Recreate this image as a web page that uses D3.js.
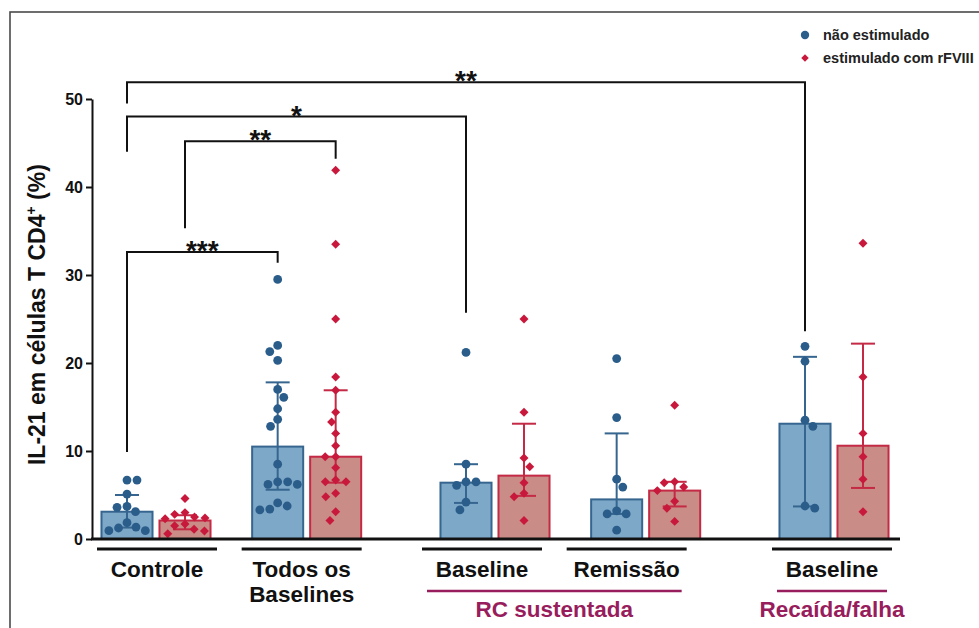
<!DOCTYPE html>
<html>
<head>
<meta charset="utf-8">
<script src="https://cdn.jsdelivr.net/npm/d3@7"></script>
<style>
  body { margin: 0; background: #fff; }
  text { font-family: Arial, "Liberation Sans", sans-serif; font-weight: bold; }
</style>
</head>
<body>
<svg id="chart" width="979" height="628"></svg>
<script>
// --- data ---
var groupLabels = [["Controle"], ["Todos os", "Baselines"], ["Baseline"], ["Remissão"], ["Baseline"]];
var seriesNames = ["não estimulado", "estimulado com rFVIII"];
var outcomes = [
  {name: "RC sustentada", groups: [2, 3]},
  {name: "Recaída/falha", groups: [4]}
];

// individual values, one list per group
var naoEstimulado = [
  [6.7, 6.7, 5.1, 3.7, 3.6, 3.1, 1.85, 1.35, 1.25, 0.95, 0.95],
  [29.5, 22.0, 21.3, 20.3, 17.0, 16.1, 14.8, 13.6, 12.8, 8.5, 6.5, 6.5, 6.2, 6.2, 4.1, 3.75, 3.4, 3.3],
  [21.2, 8.5, 6.5, 6.5, 6.1, 4.2, 3.3],
  [20.5, 13.8, 6.8, 5.9, 3.2, 2.85, 2.85, 1.0],
  [21.9, 20.2, 13.5, 12.8, 3.75, 3.5]
];
var estimulado = [
  [4.6, 3.0, 2.8, 2.5, 2.4, 2.3, 1.7, 1.5, 1.1, 0.9, 0.6],
  [41.9, 33.5, 25.0, 18.4, 16.9, 14.4, 13.3, 12.0, 10.6, 9.35, 9.35, 8.1, 6.7, 6.5, 6.5, 5.2, 4.8, 3.1, 2.1],
  [25.0, 14.4, 9.2, 8.2, 6.4, 5.2, 4.8, 2.1],
  [15.2, 6.5, 6.4, 5.9, 5.5, 4.3, 3.5, 2.0],
  [33.6, 18.4, 12.0, 9.35, 6.8, 3.1]
];

// median bars and interquartile range
var medianaNao = [3.1, 10.5, 6.4, 4.5, 13.1];
var q1Nao      = [1.3, 5.6, 4.1, 2.85, 3.7];
var q3Nao      = [5.0, 17.8, 8.5, 12.0, 20.7];
var medianaEst = [2.1, 9.35, 7.2, 5.5, 10.6];
var q1Est      = [1.1, 6.4, 4.9, 3.7, 5.8];
var q3Est      = [2.7, 16.9, 13.1, 6.5, 22.2];

var yTicks = [0, 10, 20, 30, 40, 50];
var yLabel = "IL-21 em células T CD4";

// significance brackets: [group, series] at each end, heights in data units
var comparisons = [
  {a: [0, 0], b: [4, 0], label: "**",  level: 51.9, endA: 49.5, endB: 23.6},
  {a: [0, 0], b: [2, 0], label: "*",   level: 48.0, endA: 44.0, endB: 25.7},
  {a: [0, 1], b: [1, 1], label: "**",  level: 45.2, endA: 35.3, endB: 43.2},
  {a: [0, 0], b: [1, 0], label: "***", level: 32.6, endA: 9.9,  endB: 31.4}
];

// --- layout ---
var groupSlot = [0, 4, 9, 13, 18];          // spacing of the groups along x
var labelNudge = [1, -5, -13, -19, -2];     // category text sits a little left of the bars
var colors = {
  dot: ["#2b5d8b", "#c8183b"],
  fill: ["#7ea8c8", "#c98c86"],
  stroke: ["#36668f", "#c42a45"],
  purple: "#981d5c"
};

var svg = d3.select("#chart");

svg.append("rect")
  .attr("x", 10).attr("y", 12)
  .attr("width", 1000).attr("height", 700)
  .attr("fill", "none").attr("stroke", "#4a4a4a").attr("stroke-width", 1.6);

var y = d3.scaleLinear().domain([0, 50]).range([539, 99]);
var x = d3.scaleLinear().domain([0, 18]).range([156, 834]);
var sub = d3.scaleBand().domain([0, 1]).range([-58, 58]).paddingInner(0.12).paddingOuter(0.06);
var bw = sub.bandwidth();

function cx(g, s) { return x(groupSlot[g]) + sub(s) + bw / 2; }

var axisX = 92;
var yAxis = d3.axisLeft(y).tickValues(yTicks).tickSize(6).tickSizeOuter(0).tickPadding(3);
var gy = svg.append("g").attr("transform", "translate(" + axisX + ",0)").call(yAxis);
gy.select(".domain").attr("stroke", "#111").attr("stroke-width", 2);
gy.selectAll(".tick line").attr("stroke", "#111").attr("stroke-width", 2);
gy.selectAll(".tick text").attr("fill", "#111").style("font-size", "16px")
  .style("font-family", "Arial, 'Liberation Sans', sans-serif").style("font-weight", "bold");

var ylab = svg.append("text")
  .attr("transform", "translate(45," + y(25.5) + ") rotate(-90)")
  .attr("text-anchor", "middle")
  .style("font-size", "23px").attr("fill", "#111");
ylab.append("tspan").text(yLabel);
ylab.append("tspan").attr("dy", -9).style("font-size", "14px").text("+");
ylab.append("tspan").attr("dy", 9).text(" (%)");

// bars, error bars, points
var pointSets = [naoEstimulado, estimulado];
var medians = [medianaNao, medianaEst];
var q1s = [q1Nao, q1Est];
var q3s = [q3Nao, q3Est];

var bars = [];
groupLabels.forEach(function(_, g) {
  [0, 1].forEach(function(s) {
    bars.push({g: g, s: s, med: medians[s][g], lo: q1s[s][g], hi: q3s[s][g], vals: pointSets[s][g]});
  });
});

svg.append("g").selectAll("rect").data(bars).enter().append("rect")
  .attr("x", function(d) { return cx(d.g, d.s) - bw / 2; })
  .attr("y", function(d) { return y(d.med); })
  .attr("width", bw)
  .attr("height", function(d) { return y(0) - y(d.med); })
  .attr("fill", function(d) { return colors.fill[d.s]; })
  .attr("stroke", function(d) { return colors.stroke[d.s]; })
  .attr("stroke-width", 2);

var err = svg.append("g").selectAll("g").data(bars).enter().append("g")
  .attr("stroke", function(d) { return colors.stroke[d.s]; })
  .attr("stroke-width", 2);
err.append("line")
  .attr("x1", function(d) { return cx(d.g, d.s); })
  .attr("x2", function(d) { return cx(d.g, d.s); })
  .attr("y1", function(d) { return y(d.lo); })
  .attr("y2", function(d) { return y(d.hi); });
["lo", "hi"].forEach(function(k) {
  err.append("line")
    .attr("x1", function(d) { return cx(d.g, d.s) - 12; })
    .attr("x2", function(d) { return cx(d.g, d.s) + 12; })
    .attr("y1", function(d) { return y(d[k]); })
    .attr("y2", function(d) { return y(d[k]); });
});

// compact beeswarm so that dots do not overlap
function swarm(vals, minDist) {
  var pts = vals.map(function(v) { return {v: v, py: y(v)}; })
    .sort(function(a, b) { return a.py - b.py; });
  var placed = [];
  pts.forEach(function(p, i) {
    var near = placed.filter(function(q) { return Math.abs(q.py - p.py) < minDist; });
    var cands = [0];
    near.forEach(function(q) {
      var w = Math.sqrt(minDist * minDist - (q.py - p.py) * (q.py - p.py));
      cands.push(q.dx - w, q.dx + w);
    });
    var ok = cands.filter(function(c) {
      return near.every(function(q) { return Math.hypot(q.dx - c, q.py - p.py) >= minDist - 0.01; });
    });
    ok.sort(function(a, b) { return Math.abs(a) - Math.abs(b) || (i % 2 ? b - a : a - b); });
    p.dx = ok[0];
    placed.push(p);
  });
  return placed;
}

var pts = [];
bars.forEach(function(b) {
  swarm(b.vals, b.s ? 10.5 : 10).forEach(function(p) {
    pts.push({s: b.s, x: cx(b.g, b.s) + p.dx, py: p.py});
  });
});

var diamond = d3.symbol().type(d3.symbolSquare).size(40);
svg.append("g").selectAll("circle").data(pts.filter(function(d) { return d.s === 0; }))
  .enter().append("circle")
  .attr("cx", function(d) { return d.x; })
  .attr("cy", function(d) { return d.py; })
  .attr("r", 4.4)
  .attr("fill", colors.dot[0]);
svg.append("g").selectAll("path").data(pts.filter(function(d) { return d.s === 1; }))
  .enter().append("path")
  .attr("d", diamond)
  .attr("transform", function(d) { return "translate(" + d.x + "," + d.py + ") rotate(45)"; })
  .attr("fill", colors.dot[1]);

// x baseline
svg.append("line")
  .attr("x1", axisX - 1).attr("x2", 900)
  .attr("y1", y(0)).attr("y2", y(0))
  .attr("stroke", "#111").attr("stroke-width", 3);

// significance brackets
var br = svg.append("g").selectAll("g").data(comparisons).enter().append("g");
br.append("path")
  .attr("d", function(d) {
    var xa = cx(d.a[0], d.a[1]), xb = cx(d.b[0], d.b[1]);
    return "M" + xa + "," + y(d.endA) + "V" + y(d.level) + "H" + xb + "V" + y(d.endB);
  })
  .attr("fill", "none").attr("stroke", "#111").attr("stroke-width", 2);
br.append("text")
  .attr("x", function(d) { return (cx(d.a[0], d.a[1]) + cx(d.b[0], d.b[1])) / 2; })
  .attr("y", function(d) { return y(d.level) + 8; })
  .attr("text-anchor", "middle")
  .style("font-size", "28px").attr("fill", "#111")
  .text(function(d) { return d.label; });

// category labels with underline
var labelX = groupLabels.map(function(_, g) { return x(groupSlot[g]) + labelNudge[g]; });
var cat = svg.append("g").selectAll("g").data(groupLabels).enter().append("g");
cat.append("line")
  .attr("x1", function(d, g) { return labelX[g] - 60; })
  .attr("x2", function(d, g) { return labelX[g] + 60; })
  .attr("y1", 549).attr("y2", 549)
  .attr("stroke", "#111").attr("stroke-width", 3);
cat.each(function(lines, g) {
  var t = d3.select(this).append("text")
    .attr("x", labelX[g]).attr("y", 577)
    .attr("text-anchor", "middle")
    .style("font-size", "22.5px").attr("fill", "#111");
  lines.forEach(function(l, i) {
    t.append("tspan").attr("x", labelX[g]).attr("dy", i ? 25 : 0).text(l);
  });
});

// outcome labels
var out = svg.append("g").selectAll("g").data(outcomes).enter().append("g");
out.append("line")
  .attr("x1", function(d) { return d3.min(d.groups, function(g) { return labelX[g]; }) - 55; })
  .attr("x2", function(d) { return d3.max(d.groups, function(g) { return labelX[g]; }) + 55; })
  .attr("y1", 591).attr("y2", 591)
  .attr("stroke", colors.purple).attr("stroke-width", 2.5);
out.append("text")
  .attr("x", function(d) { return d3.mean(d.groups, function(g) { return labelX[g]; }); })
  .attr("y", 617)
  .attr("text-anchor", "middle")
  .style("font-size", "22.5px").attr("fill", colors.purple)
  .text(function(d) { return d.name; });

// legend
var leg = svg.append("g").selectAll("g").data(seriesNames).enter().append("g")
  .attr("transform", function(d, i) { return "translate(805," + (35 + i * 23) + ")"; });
leg.filter(function(d, i) { return i === 0; }).append("circle").attr("r", 4.2).attr("fill", colors.dot[0]);
leg.filter(function(d, i) { return i === 1; }).append("path")
  .attr("d", d3.symbol().type(d3.symbolSquare).size(28)).attr("transform", "rotate(45)")
  .attr("fill", colors.dot[1]);
leg.append("text")
  .attr("x", 18).attr("dy", "0.35em")
  .style("font-size", "14.5px").attr("fill", "#222")
  .text(function(d) { return d; });
</script>
</body>
</html>
